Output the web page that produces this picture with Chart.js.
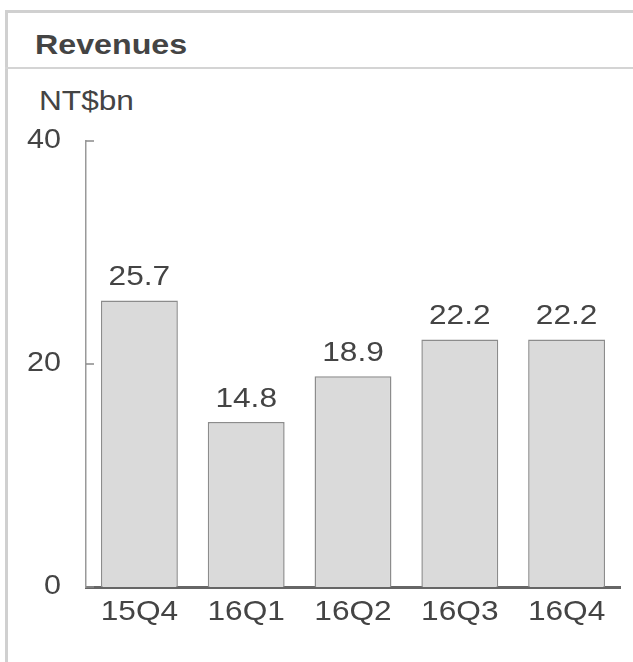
<!DOCTYPE html>
<html>
<head>
<meta charset="utf-8">
<script src="https://cdn.jsdelivr.net/npm/chart.js@4"></script>
<style>
  html,body{margin:0;padding:0;background:#fff;}
  #wrap{position:relative;width:633px;height:662px;overflow:hidden;font-family:"Liberation Sans",Arial,sans-serif;}
  #frame{position:absolute;left:5px;top:10px;width:640px;height:700px;border-left:3px solid #d0d0d0;border-top:3px solid #d0d0d0;}
  #sep{position:absolute;left:5px;top:67px;width:640px;height:0;border-top:2px solid #d4d4d4;}
  #title{position:absolute;left:35px;top:28px;font-weight:bold;font-size:28.5px;color:#444;transform:scaleX(1.13);transform-origin:left top;}
  #unit{position:absolute;left:39px;top:85px;font-size:28px;color:#444;transform:scaleX(1.13);transform-origin:left top;}
  canvas{position:absolute;left:0;top:0;}
</style>
</head>
<body>
<div id="wrap">
  <div id="frame"></div>
  <div id="sep"></div>
  <div id="title">Revenues</div>
  <div id="unit">NT$bn</div>
  <canvas id="c" width="633" height="662"></canvas>
</div>
<script>
const categories = ["15Q4", "16Q1", "16Q2", "16Q3", "16Q4"];
const revenues = [25.7, 14.8, 18.9, 22.2, 22.2];
const yTicks = [0, 20, 40];

const textColor = "#444";
const fontFamily = '"Liberation Sans", Arial, sans-serif';
const stretch = 1.13;

function drawStretched(ctx, text, x, y, align, baseline) {
  ctx.save();
  ctx.translate(x, y);
  ctx.scale(stretch, 1);
  ctx.textAlign = align;
  ctx.textBaseline = baseline;
  ctx.fillText(text, 0, 0);
  ctx.restore();
}

const textLayer = {
  id: "textLayer",
  afterDraw(chart) {
    const ctx = chart.ctx;
    const xs = chart.scales.x, ys = chart.scales.y;
    const area = chart.chartArea;
    ctx.save();
    ctx.fillStyle = textColor;
    // value labels
    ctx.font = "28px " + fontFamily;
    chart.getDatasetMeta(0).data.forEach((bar, i) => {
      drawStretched(ctx, revenues[i].toFixed(1), bar.x, bar.y - 9, "center", "bottom");
    });
    // x tick labels
    ctx.font = "28px " + fontFamily;
    categories.forEach((c, i) => {
      drawStretched(ctx, c, xs.getPixelForTick(i), area.bottom + 11, "center", "top");
    });
    // y tick labels
    ctx.font = "27px " + fontFamily;
    yTicks.forEach(v => {
      drawStretched(ctx, String(v), area.left - 25, ys.getPixelForValue(v), "right", "middle");
    });
    // inward tick marks
    ctx.strokeStyle = "#8a8a8a";
    ctx.lineWidth = 1.5;
    yTicks.forEach(v => {
      const py = ys.getPixelForValue(v);
      ctx.beginPath();
      ctx.moveTo(area.left, py);
      ctx.lineTo(area.left + 8, py);
      ctx.stroke();
    });
    ctx.restore();
  }
};

new Chart(document.getElementById("c"), {
  type: "bar",
  data: {
    labels: categories,
    datasets: [{
      data: revenues,
      backgroundColor: "#dadada",
      borderColor: "#8c8c8c",
      borderWidth: 1.5,
      categoryPercentage: 0.72,
      barPercentage: 1.0
    }]
  },
  options: {
    responsive: false,
    animation: false,
    devicePixelRatio: 1,
    layout: { padding: { left: 0, right: 13, top: 141, bottom: 0 } },
    plugins: { legend: { display: false }, tooltip: { enabled: false }, title: { display: false } },
    scales: {
      x: {
        grid: { display: false, drawTicks: false },
        border: { display: true, color: "#666", width: 3 },
        ticks: { display: false },
        afterFit(s) { s.height = 75; }
      },
      y: {
        min: 0, max: 40,
        afterBuildTicks(s) { s.ticks = yTicks.map(v => ({ value: v })); },
        grid: { display: false, drawTicks: false },
        border: { display: true, color: "#999", width: 1.5 },
        ticks: { display: false },
        afterFit(s) { s.width = 86; }
      }
    }
  },
  plugins: [textLayer]
});
</script>
</body>
</html>
